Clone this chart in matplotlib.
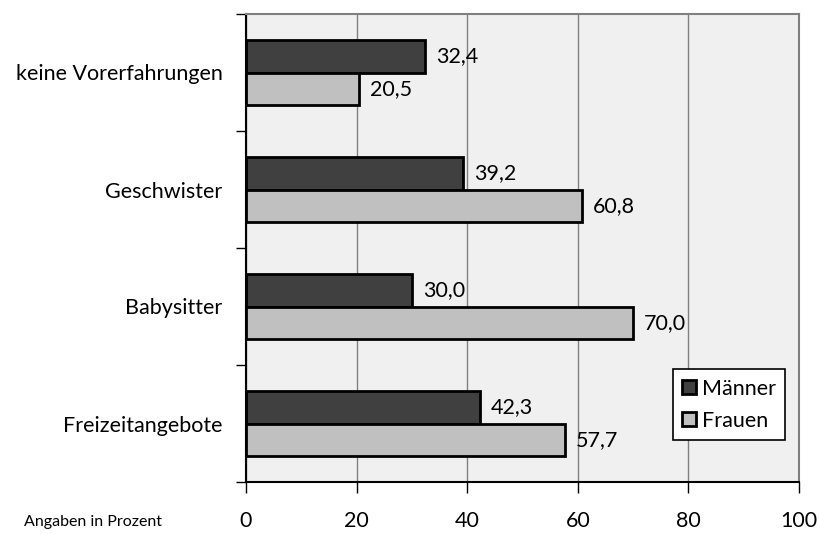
import matplotlib.pyplot as plt
import numpy as np

plt.rcParams['font.family'] = ['Lato', 'DejaVu Sans']

categories = ['keine Vorerfahrungen', 'Geschwister', 'Babysitter', 'Freizeitangebote']
maenner = [32.4, 39.2, 30.0, 42.3]
frauen = [20.5, 60.8, 70.0, 57.7]
xticks = [0, 20, 40, 60, 80, 100]

fig = plt.figure(figsize=(8.19, 5.34), dpi=100)
ax = fig.add_axes([246 / 819, 1 - 482 / 534, 553 / 819, 468 / 534])
ax.set_facecolor('#f0f0f0')

y = np.arange(len(categories))[::-1].astype(float)
h = 0.28
b1 = ax.barh(y + h / 2, maenner, height=h, color='#404040', edgecolor='black', linewidth=2, label='Männer', zorder=3)
b2 = ax.barh(y - h / 2, frauen, height=h, color='#c0c0c0', edgecolor='black', linewidth=2, label='Frauen', zorder=3)

for bars, vals in [(b1, maenner), (b2, frauen)]:
    for bar, v in zip(bars, vals):
        ax.annotate(f'{v:.1f}'.replace('.', ','), (v, bar.get_y() + bar.get_height() / 2),
                    xytext=(8, 0), textcoords='offset points', va='center', ha='left', fontsize=15.5)

ax.set_xlim(0, 100)
ax.set_ylim(-0.5, len(categories) - 0.5)
ax.set_xticks(xticks)
ax.set_xticklabels([str(t) for t in xticks], fontsize=15.5)
ax.set_yticks(y)
ax.set_yticklabels(categories, fontsize=15.5)
ax.set_yticks(np.arange(-0.5, len(categories)), minor=True)
ax.tick_params(axis='y', which='major', length=0, pad=17)
ax.tick_params(axis='y', which='minor', length=7, width=1, direction='out')
ax.tick_params(axis='x', length=8, width=1, direction='out', pad=13)
ax.grid(axis='x', color='#808080', linewidth=1, zorder=0)

for s in ['top', 'right']:
    ax.spines[s].set_color('#808080')
    ax.spines[s].set_linewidth(1.5)
for s in ['left', 'bottom']:
    ax.spines[s].set_color('black')
    ax.spines[s].set_linewidth(1.5)

leg = ax.legend(loc='lower right', bbox_to_anchor=(0.983, 0.08), fontsize=15.5, frameon=True, fancybox=False,
                edgecolor='black', framealpha=1, handlelength=0.65, handleheight=0.65, handletextpad=0.25,
                borderpad=0.45, labelspacing=0.55, borderaxespad=0.2)
leg.get_frame().set_linewidth(1.2)

fig.text(24 / 819, 1 - 522 / 534, 'Angaben in Prozent', fontsize=11.5, ha='left', va='center')

fig.savefig('out.png', dpi=100)
